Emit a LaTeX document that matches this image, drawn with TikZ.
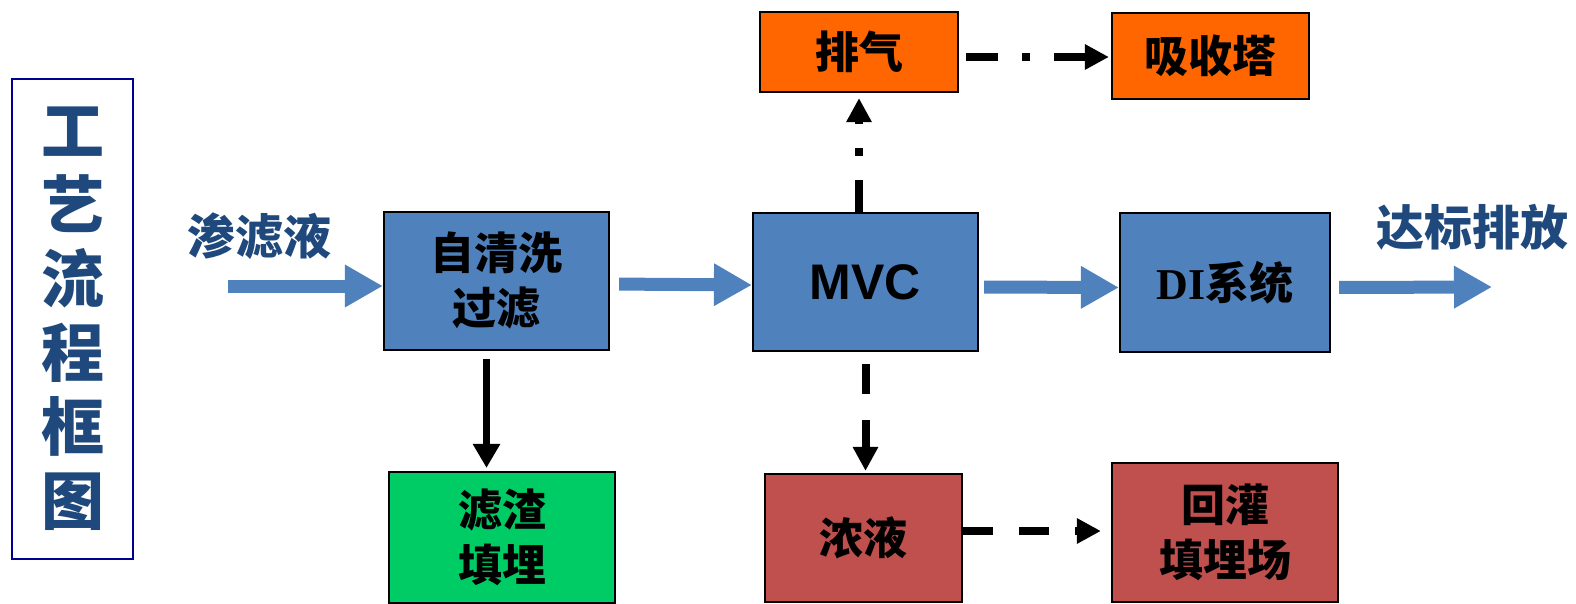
\documentclass[tikz,border=0pt]{standalone}
\usepackage{fontspec}
\newfontfamily\cjk{Noto Sans CJK SC}
\newfontfamily\arialf{Liberation Sans}
\newfontfamily\timesf{Liberation Serif}
\usetikzlibrary{arrows.meta}
\definecolor{boxblue}{HTML}{4F81BD}
\definecolor{boxorange}{HTML}{FF6600}
\definecolor{boxred}{HTML}{C0504D}
\definecolor{boxgreen}{HTML}{00CC66}
\definecolor{titleblue}{HTML}{1F497D}
\definecolor{navyline}{HTML}{000090}
\tikzset{
  procbox/.style={draw=black, line width=2.2pt, inner sep=0pt, align=center,
    text=black, font=\cjk\bfseries\fontsize{44}{55}\selectfont},
  bluearrow/.style={draw=boxblue, line width=13pt,
    -{Triangle[length=38pt,width=40pt]}},
  blackarrow/.style={draw=black, line width=7pt,
    -{Triangle[length=24pt,width=26pt]}},
  dasharrow/.style={draw=black, line width=8pt, dash pattern=on 30pt off 26pt,
    -{Triangle[length=24pt,width=24pt]}},
  dotdasharrow/.style={draw=black, line width=8pt,
    dash pattern=on 32pt off 24pt on 8pt off 24pt,
    -{Triangle[length=24pt,width=24pt]}},
  bluelabel/.style={text=titleblue, font=\cjk\bfseries\fontsize{48}{55}\selectfont}
}
\begin{document}
\begin{tikzpicture}[x=1pt,y=-1pt]
\useasboundingbox (0,0) rectangle (1576,603);

% title box
\node[draw=navyline, line width=2pt, minimum width=121pt, minimum height=480pt,
  inner sep=0pt, align=center, text=titleblue,
  font=\cjk\bfseries\fontsize{63}{74}\selectfont] (title) at (72.5,319)
  {工\\艺\\流\\程\\框\\图};

% labels
\node[bluelabel] (inlab) at (259,236) {渗滤液};
\node[bluelabel] (outlab) at (1472,227) {达标排放};

% process boxes
\node[procbox, fill=boxblue, minimum width=225pt, minimum height=138pt] (filt) at (496.5,281) {自清洗\\过滤};
\node[procbox, fill=boxblue, minimum width=225pt, minimum height=138pt,
  font=\arialf\bfseries\fontsize{50}{55}\selectfont] (mvc) at (865.5,282) {MVC};
\node[procbox, fill=boxblue, minimum width=210pt, minimum height=139pt] (di) at (1225,282.5) {{\timesf\bfseries DI}系统};
\node[procbox, fill=boxorange, minimum width=198pt, minimum height=80pt] (gas) at (859,52) {排气};
\node[procbox, fill=boxorange, minimum width=197pt, minimum height=86pt] (tower) at (1210.5,56) {吸收塔};
\node[procbox, fill=boxgreen, minimum width=226pt, minimum height=131pt] (residue) at (502,537.5) {滤渣\\填埋};
\node[procbox, fill=boxred, minimum width=197pt, minimum height=128pt] (conc) at (863.5,538) {浓液};
\node[procbox, fill=boxred, minimum width=226pt, minimum height=139pt] (refill) at (1225,532.5) {回灌\\填埋场};

% coordinates
\coordinate (instart) at (228,286);
\coordinate (outend) at (1492,287);

% blue flow arrows
\draw[bluearrow] (instart) -- (instart -| filt.west);
\draw[bluearrow, shorten <=9pt] ([yshift=-3pt]filt.east) -- ([yshift=-3pt]mvc.west);
\draw[bluearrow, shorten <=5pt] ([yshift=-5pt]mvc.east) -- ([yshift=-5pt]di.west);
\draw[bluearrow, shorten <=8pt] ([yshift=-5pt]di.east) -- (outend);

% black arrows
\draw[blackarrow, shorten <=8pt, shorten >=3pt] ([xshift=-10pt]filt.south) -- ([xshift=-10pt]filt.south |- residue.north);
\draw[dotdasharrow, shorten >=5pt] (gas.south |- mvc.north) -- (gas.south);
\draw[dotdasharrow, shorten <=7pt, shorten >=2pt] ([yshift=-5pt]gas.east) -- ([yshift=-5pt]gas.east -| tower.west);
\draw[dasharrow, shorten <=12pt, shorten >=2pt] (mvc.south) -- (mvc.south |- conc.north);
\draw[dasharrow, shorten >=10pt] ([yshift=7pt]conc.east) -- ([yshift=7pt]conc.east -| refill.west);
\end{tikzpicture}
\end{document}
